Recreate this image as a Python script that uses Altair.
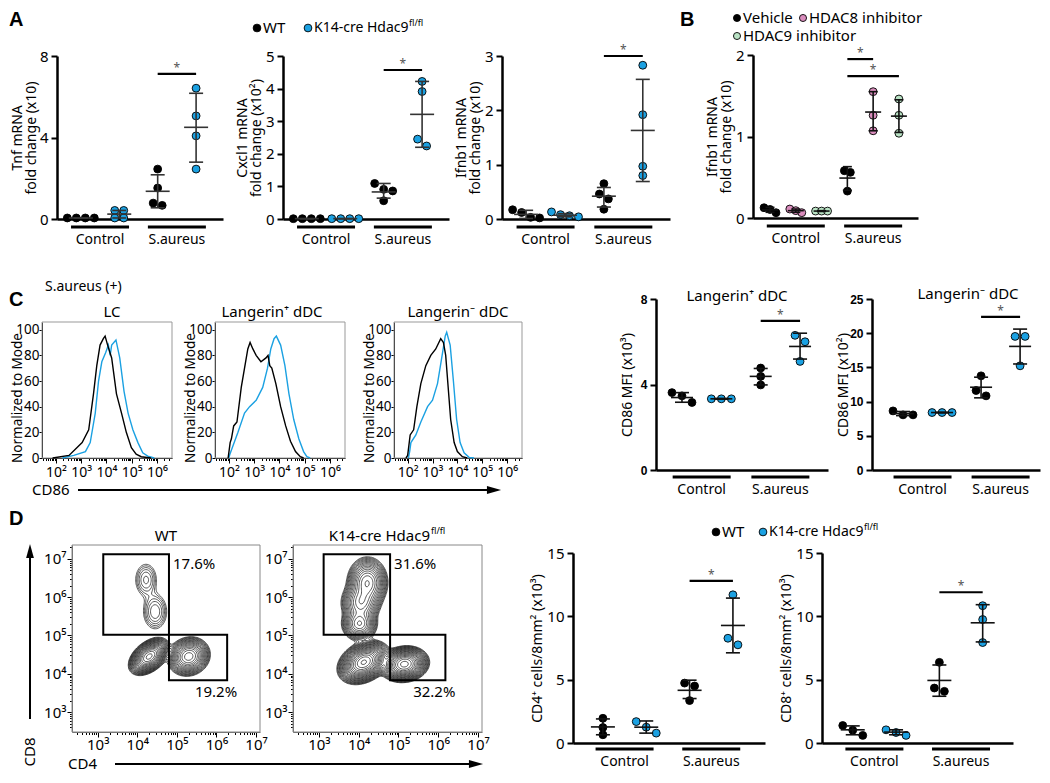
import altair as alt
import numpy as np
import pandas as pd

alt.data_transformers.disable_max_rows()

FONT = "Noto Sans"
BFONT = "Liberation Sans"
BLUE = "#1ba1e2"
BLACK = "#000000"
PINK = "#d98cbc"
GREEN = "#b9e2c4"

CATS = ["Control", "S.aureus"]
GENOTYPES = ["WT", "K14-cre Hdac9"]
SUP = "fl/fl"
TREATMENTS = ["Vehicle", "HDAC8 inhibitor", "HDAC9 inhibitor"]

# ---------------- Panel A (WT ctrl, KO ctrl, WT S.aureus, KO S.aureus) ----------------
tnf_vals = [[0.05, 0.05, 0.05, 0.05], [0.42, 0.42, 0.05, 0.05], [2.45, 1.52, 0.78, 0.67], [6.42, 5.06, 4.08, 2.45]]
tnf_mean = [0.05, 0.24, 1.36, 4.50]
tnf_lo = [0.04, 0.05, 0.55, 2.79]
tnf_hi = [0.06, 0.42, 2.17, 6.17]

cxcl1_vals = [[0.01, 0.01, 0.01, 0.01], [0.01, 0.01, 0.01, 0.01], [1.09, 0.91, 0.86, 0.56], [4.22, 3.91, 2.45, 2.24]]
cxcl1_mean = [0.01, 0.01, 0.83, 3.21]
cxcl1_lo = [0.01, 0.01, 0.64, 2.20]
cxcl1_hi = [0.01, 0.01, 1.09, 4.22]

ifnb1_vals = [[0.17, 0.12, 0.03, 0.02], [0.13, 0.08, 0.06, 0.04], [0.65, 0.46, 0.37, 0.18], [2.83, 1.92, 0.97, 0.80]]
ifnb1_mean = [0.085, 0.07, 0.42, 1.63]
ifnb1_lo = [0.01, 0.04, 0.22, 0.69]
ifnb1_hi = [0.16, 0.10, 0.58, 2.57]

# ---------------- Panel B (Vehicle, HDAC8i, HDAC9i) x (Control, S.aureus) ----------------
b_vals = [[0.126, 0.105, 0.065], [0.11, 0.09, 0.065], [0.085, 0.085, 0.085],
          [0.58, 0.56, 0.33], [1.55, 1.26, 1.07], [1.46, 1.26, 1.04]]
b_mean = [0.10, 0.09, 0.085, 0.49, 1.30, 1.25]
b_lo = [0.07, 0.07, 0.08, 0.34, 1.07, 1.05]
b_hi = [0.13, 0.11, 0.09, 0.63, 1.55, 1.45]

# ---------------- Panel C dot plots ----------------
cplus_vals = [[3.62, 3.47, 3.16], [3.33, 3.33, 3.33], [4.77, 4.38, 3.98], [6.30, 6.00, 5.08]]
cplus_mean = [3.39, 3.33, 4.38, 5.78]
cplus_lo = [3.17, 3.31, 3.98, 5.19]
cplus_hi = [3.62, 3.35, 4.75, 6.40]

cminus_vals = [[8.64, 8.06, 8.06], [8.40, 8.40, 8.40], [13.77, 11.62, 10.84], [19.53, 19.53, 15.23]]
cminus_mean = [8.25, 8.40, 12.10, 18.07]
cminus_lo = [7.95, 8.35, 10.55, 15.50]
cminus_hi = [8.55, 8.45, 13.57, 20.60]

# ---------------- Panel C histograms (log10 CD86, % of mode) ----------------
lc_wt_x = [1.87, 2.52, 3.04, 3.30, 3.49, 3.62, 3.75, 3.88, 3.95, 4.05, 4.21, 4.40, 4.60, 4.79, 4.99, 5.18, 5.38, 5.77]
lc_wt_y = [0, 2, 12, 22, 50, 72, 88, 93, 95, 88, 78, 50, 35, 20, 8, 3, 1, 0]
lc_ko_x = [2.26, 2.71, 3.17, 3.36, 3.56, 3.69, 3.82, 3.97, 4.08, 4.15, 4.21, 4.38, 4.53, 4.70, 4.86, 5.05, 5.25, 5.44, 5.64, 5.90]
lc_ko_y = [0, 2, 5, 12, 35, 60, 75, 82, 88, 80, 88, 92, 78, 52, 35, 22, 12, 4, 1.5, 0]

lp_wt_x = [1.97, 2.05, 2.10, 2.19, 2.32, 2.49, 2.62, 2.75, 2.84, 2.95, 3.08, 3.27, 3.47, 3.55, 3.62, 3.70, 3.86, 4.05, 4.25, 4.44, 4.64, 4.83, 4.96]
lp_wt_y = [0, 12, 15, 25, 28, 55, 70, 85, 90, 85, 80, 75, 78, 80, 72, 70, 58, 40, 25, 13, 5, 1, 0]
lp_ko_x = [2.00, 2.04, 2.17, 2.36, 2.62, 2.82, 3.08, 3.34, 3.53, 3.66, 3.79, 3.88, 4.05, 4.22, 4.38, 4.57, 4.77, 4.96, 5.09, 5.22]
lp_ko_y = [0, 3, 10, 20, 35, 40, 45, 55, 70, 85, 93, 95, 88, 72, 50, 30, 15, 5, 1, 0]

lm_wt_x = [1.93, 2.00, 2.10, 2.24, 2.37, 2.53, 2.73, 2.93, 3.13, 3.33, 3.44, 3.53, 3.63, 3.73, 3.87, 4.00, 4.20, 4.40]
lm_wt_y = [0, 2, 18, 22, 40, 58, 72, 80, 85, 93, 90, 80, 55, 30, 12, 5, 1, 0]
lm_ko_x = [2.03, 2.08, 2.13, 2.33, 2.53, 2.80, 3.00, 3.20, 3.37, 3.51, 3.57, 3.71, 3.84, 3.97, 4.11, 4.27, 4.47, 4.67]
lm_ko_y = [0, 5, 12, 18, 28, 40, 45, 58, 78, 95, 98, 88, 60, 30, 12, 4, 0.5, 0]

# ---------------- Panel D contour populations (log10 CD4, log10 CD8, sd x, sd y, corr, weight) ----
wt_pops = [(4.30, 4.45, 0.17, 0.16, 0.45, 1.0), (5.30, 4.45, 0.19, 0.18, 0.1, 0.5),
           (4.45, 5.62, 0.17, 0.26, 0.0, 0.035), (4.22, 6.45, 0.16, 0.25, 0.0, 0.03)]
ko_pops = [(4.13, 4.30, 0.22, 0.19, 0.3, 1.0), (5.15, 4.25, 0.21, 0.16, 0.1, 0.85),
           (4.02, 5.30, 0.18, 0.18, 0.0, 0.20), (4.05, 5.85, 0.20, 0.22, 0.0, 0.18),
           (4.22, 6.38, 0.20, 0.26, 0.0, 0.25)]
wt_levels = [0.9 * 0.78 ** k for k in range(20)]
ko_levels = [0.95 * 0.8 ** k for k in range(22)]
wt_gates = [[3.14, 4.80, 5.02, 7.12], [4.80, 6.27, 3.83, 5.02]]
ko_gates = [[3.12, 4.79, 5.02, 7.12], [4.79, 6.18, 3.83, 5.02]]
wt_pct = ["17.6%", "19.2%"]
ko_pct = ["31.6%", "32.2%"]

# ---------------- Panel D dot plots ----------------
cd4_vals = [[1.95, 1.22, 0.65], [1.69, 1.25, 0.78], [4.73, 4.50, 3.35], [11.70, 8.27, 7.75]]
cd4_mean = [1.27, 1.25, 4.16, 9.28]
cd4_lo = [0.65, 0.78, 3.51, 7.12]
cd4_hi = [1.90, 1.74, 4.96, 11.44]
cd8_vals = [[1.38, 1.01, 0.60], [1.04, 0.83, 0.60], [6.37, 4.34, 4.08], [10.84, 9.75, 7.93]]
cd8_mean = [1.04, 0.86, 4.94, 9.49]
cd8_lo = [0.65, 0.65, 3.69, 7.98]
cd8_hi = [1.35, 1.04, 6.16, 10.92]

MAJ = "abs(log(datum.value)/LN10 - round(log(datum.value)/LN10)) < 0.01"
LBL = ("(" + MAJ + ") ? '10' + ['\u2070','\u00b9','\u00b2','\u00b3','\u2074','\u2075','\u2076','\u2077','\u2078']"
       "[round(log(datum.value)/LN10)] : ''")

# whole canvas = one view; page coordinates are view coordinates + 8
VW, VH = 1034, 762
O = 8


# ---------------- helpers (page coordinates) ----------------
def one():
    return pd.DataFrame({"a": [0]})


def txt(s, x, y, size=14, align="left", baseline="middle", weight="normal", angle=0, font=FONT, color="black"):
    return alt.Chart(pd.DataFrame({"t": [s]})).mark_text(
        align=align, baseline=baseline, fontSize=size, fontWeight=weight, angle=angle, font=font, color=color
    ).encode(x=alt.value(x - O), y=alt.value(y - O), text="t:N")


def dot(x, y, fill, size=60):
    return alt.Chart(one()).mark_point(filled=True, fill=fill, stroke="black", strokeWidth=0.9, size=size, opacity=1).encode(
        x=alt.value(x - O), y=alt.value(y - O))


def hline(x1, x2, y, w=2):
    return alt.Chart(one()).mark_rule(color="black", strokeWidth=w).encode(
        x=alt.value(x1 - O), x2=alt.value(x2 - O), y=alt.value(y - O))


def vline(x, y1, y2, w=2):
    return alt.Chart(one()).mark_rule(color="black", strokeWidth=w).encode(
        x=alt.value(x - O), y=alt.value(y1 - O), y2=alt.value(y2 - O))


def head(x, y, shape, size=200):
    return alt.Chart(one()).mark_point(shape=shape, filled=True, fill="black", strokeWidth=0, size=size, opacity=1).encode(
        x=alt.value(x - O), y=alt.value(y - O))


RIGHT = "M-1,-0.55L1,0L-1,0.55Z"
UP = "M-0.55,1L0,-1L0.55,1Z"


def swarm(vals, ppy, d, thr=7.0):
    order = sorted(range(len(vals)), key=lambda i: -vals[i])
    rows = []
    for i in order:
        if rows and (vals[rows[-1][-1]] - vals[i]) * ppy < thr:
            rows[-1].append(i)
        else:
            rows.append([i])
    offs = [0.0] * len(vals)
    for r in rows:
        for k, i in enumerate(r):
            offs[i] = (k - (len(r) - 1) / 2) * d
    return offs


def scales(ox, oy, W, H, xdom, ydom, xtype="linear", ytype="linear"):
    xs = alt.Scale(type=xtype, domain=xdom, range=[ox - O, ox - O + W], nice=False, zero=False)
    ys = alt.Scale(type=ytype, domain=ydom, range=[oy - O + H, oy - O], nice=False, zero=False)
    return xs, ys


def dot_panel(vals, means, los, his, colors, ox, oy, W, H, ymax, yticks, ytitle, title_x, xlo, xhi, sigs, cat_pos,
              d=9, mean_hw=12, cap_hw=7, under_hw=29, under_dy=8, cat_dy=21, lab_font=FONT, lab_size=15,
              lab_weight="normal", bar_color="#333"):
    ppx = W / (xhi - xlo)
    ppy = H / ymax
    xs, ys = scales(ox, oy, W, H, [xlo, xhi], [0, ymax])
    xax = alt.Axis(orient="bottom", offset=(oy - O + H) - VH, labels=False, ticks=False, title=None, grid=False,
                   domainWidth=2.5, domainColor="black")
    yax = alt.Axis(orient="left", offset=-(ox - O), values=yticks, format="~g", title=ytitle, titleX=title_x,
                   grid=False, tickSize=6, tickWidth=2, domainWidth=2.5, labelFont=lab_font, labelFontSize=lab_size,
                   labelFontWeight=lab_weight, titleFontSize=14, labelPadding=3, titleLineHeight=14.5)

    def X(f):
        return alt.X(f, type="quantitative", scale=xs, axis=xax)

    def Y(f):
        return alt.Y(f, type="quantitative", scale=ys, axis=yax)

    prow = []
    for g, (v, c) in enumerate(zip(vals, colors)):
        for val, o in zip(v, swarm(v, ppy, d)):
            prow.append({"x": g + 1 + o / ppx, "y": val, "c": c})
    pdf = pd.DataFrame(prow)
    n = len(vals)
    edf = pd.DataFrame({"x": [g + 1.0 for g in range(n)], "mean": means, "lo": los, "hi": his})
    edf["m1"] = edf.x - mean_hw / ppx
    edf["m2"] = edf.x + mean_hw / ppx
    edf["c1"] = edf.x - cap_hw / ppx
    edf["c2"] = edf.x + cap_hw / ppx
    udf = pd.DataFrame({"label": CATS, "xc": cat_pos})
    udf["x1"] = udf.xc - under_hw / ppx
    udf["x2"] = udf.xc + under_hw / ppx
    sdf = pd.DataFrame(sigs, columns=["g1", "g2", "y"])
    sdf["xm"] = (sdf.g1 + sdf.g2) / 2
    layers = [
        alt.Chart(pdf).mark_point(filled=True, size=62, stroke="black", strokeWidth=0.9, opacity=1).encode(
            x=X("x"), y=Y("y"), fill=alt.Fill("c:N", scale=None)),
        alt.Chart(edf).mark_rule(color=bar_color, strokeWidth=1.6).encode(x=X("x"), y=Y("lo"), y2=alt.Y2("hi")),
        alt.Chart(edf).mark_rule(color=bar_color, strokeWidth=1.6).encode(x=X("m1"), x2=alt.X2("m2"), y=Y("mean")),
        alt.Chart(edf).mark_rule(color=bar_color, strokeWidth=1.6).encode(x=X("c1"), x2=alt.X2("c2"), y=Y("hi")),
        alt.Chart(edf).mark_rule(color=bar_color, strokeWidth=1.6).encode(x=X("c1"), x2=alt.X2("c2"), y=Y("lo")),
        alt.Chart(sdf).mark_rule(color="black", strokeWidth=2.2).encode(x=X("g1"), x2=alt.X2("g2"), y=Y("y")),
        alt.Chart(sdf).mark_text(text="*", dy=-6, fontSize=12, color="#555").encode(x=X("xm"), y=Y("y")),
        alt.Chart(udf).mark_rule(color="black", strokeWidth=2.8).encode(
            x=X("x1"), x2=alt.X2("x2"), y=alt.value(oy - O + H + under_dy)),
        alt.Chart(udf).mark_text(fontSize=14, baseline="middle", font=FONT).encode(
            x=X("xc"), y=alt.value(oy - O + H + cat_dy), text="label:N"),
    ]
    return alt.layer(*layers)


def log_axis(lo, hi, size, **kw):
    vals = []
    for k in range(int(np.floor(lo)), int(np.ceil(hi)) + 1):
        for m in range(1, 10):
            v = float(m * 10 ** k)
            if 10 ** lo <= v <= 10 ** hi:
                vals.append(v)
    return alt.Axis(values=vals, labelExpr=LBL, tickSize={"condition": {"test": MAJ, "value": 5}, "value": 2.5},
                    labelOverlap=False, labelFlush=False, labelFontSize=size, grid=False, **kw)


def frame(xs, ys, xax, yax, xd, yd, color):
    df = pd.DataFrame({"x1": [xd[0]], "x2": [xd[1]], "y1": [yd[0]], "y2": [yd[1]]})
    return alt.Chart(df).mark_rect(fillOpacity=0, stroke=color, strokeWidth=1).encode(
        x=alt.X("x1:Q", scale=xs, axis=xax), x2=alt.X2("x2"), y=alt.Y("y1:Q", scale=ys, axis=yax), y2=alt.Y2("y2"))


HX = (10 ** 1.45, 10 ** 6.6)
HY = (0, 106)


def hist_panel(bx, by, ux, uy, ox, oy, W, H):
    xs, ys = scales(ox, oy, W, H, list(HX), list(HY), xtype="log")
    xax = log_axis(1.45, 6.6, 14, orient="bottom", offset=(oy - O + H) - VH, title=None, domainColor="black",
                   domainWidth=1, tickWidth=1, labelPadding=2)
    yax = alt.Axis(orient="left", offset=-(ox - O), values=[0, 20, 40, 60, 80, 100], title=None,
                   tickSize=3, tickWidth=1, domainWidth=1, labelFontSize=13.5, labelPadding=0, grid=False)

    def mk(xv, yv, col):
        df = pd.DataFrame({"lx": xv, "y": yv})
        return alt.Chart(df).transform_calculate(x="pow(10, datum.lx)").mark_line(color=col, strokeWidth=1.4).encode(
            x=alt.X("x:Q", scale=xs, axis=xax), y=alt.Y("y:Q", scale=ys, axis=yax))

    return alt.layer(frame(xs, ys, xax, yax, HX, HY, "#999"), mk(ux, uy, BLUE), mk(bx, by, "black"),
                     txt("Normalized to Mode", ox - 24, oy + H / 2 + 8, size=13.5, align="center", angle=270))


CASES = {1: [(3, 0)], 2: [(0, 1)], 3: [(3, 1)], 4: [(1, 2)], 5: [(3, 0), (1, 2)], 6: [(0, 2)], 7: [(3, 2)],
         8: [(2, 3)], 9: [(0, 2)], 10: [(0, 1), (2, 3)], 11: [(1, 2)], 12: [(3, 1)], 13: [(0, 1)], 14: [(3, 0)]}


def march(Z, xs, ys, L):
    z0 = Z[:-1, :-1]; z1 = Z[:-1, 1:]; z2 = Z[1:, 1:]; z3 = Z[1:, :-1]
    idx = (z0 > L) * 1 + (z1 > L) * 2 + (z2 > L) * 4 + (z3 > L) * 8
    X0 = np.broadcast_to(xs[None, :-1], z0.shape); X1 = np.broadcast_to(xs[None, 1:], z0.shape)
    Y0 = np.broadcast_to(ys[:-1, None], z0.shape); Y1 = np.broadcast_to(ys[1:, None], z0.shape)
    with np.errstate(divide="ignore", invalid="ignore"):
        E = [(X0 + (L - z0) / (z1 - z0) * (X1 - X0), Y0),
             (X1, Y0 + (L - z1) / (z2 - z1) * (Y1 - Y0)),
             (X0 + (L - z3) / (z2 - z3) * (X1 - X0), Y1),
             (X0, Y0 + (L - z0) / (z3 - z0) * (Y1 - Y0))]
    out = []
    for case, pairs in CASES.items():
        m = idx == case
        if not m.any():
            continue
        for a, b in pairs:
            out.append(np.stack([E[a][0][m], E[a][1][m], E[b][0][m], E[b][1][m]], axis=1))
    return np.concatenate(out) if out else np.zeros((0, 4))


XL = (2.35, 7.1)
YL = (2.48, 7.36)


def contour_panel(pops, levels, gates, pct, ox, oy, W, H):
    lx = np.linspace(XL[0], XL[1], 141)
    ly = np.linspace(YL[0], YL[1], 141)
    GX, GY = np.meshgrid(lx, ly)
    Z = np.zeros_like(GX)
    for cx, cy, sx, sy, r, w in pops:
        dx = (GX - cx) / sx
        dy = (GY - cy) / sy
        Z += w * np.exp(-0.5 * (dx * dx - 2 * r * dx * dy + dy * dy) / (1 - r * r))
    segs = np.concatenate([march(Z, lx, ly, L) for L in levels])
    sdf = pd.DataFrame(np.round(segs, 3), columns=["a", "b", "c", "d"])
    xd = [10 ** XL[0], 10 ** XL[1]]
    yd = [10 ** YL[0], 10 ** YL[1]]
    xs, ys = scales(ox, oy, W, H, xd, yd, xtype="log", ytype="log")
    xax = log_axis(XL[0], XL[1], 15, orient="bottom", offset=(oy - O + H) - VH, title=None, domainColor="#666",
                   domainWidth=1, tickWidth=1, labelPadding=0)
    yax = log_axis(YL[0], YL[1], 15, orient="left", offset=-(ox - O), title=None, domainColor="#666",
                   domainWidth=1, tickWidth=1, labelPadding=1)
    cont = alt.Chart(sdf).transform_calculate(
        x="pow(10, datum.a)", y="pow(10, datum.b)", x2="pow(10, datum.c)", y2="pow(10, datum.d)"
    ).mark_rule(color="#111", strokeWidth=0.7).encode(
        x=alt.X("x:Q", scale=xs, axis=xax), y=alt.Y("y:Q", scale=ys, axis=yax), x2=alt.X2("x2:Q"), y2=alt.Y2("y2:Q"))
    gdf = pd.DataFrame(gates, columns=["a", "b", "c", "d"])
    gate = alt.Chart(gdf).transform_calculate(
        x="pow(10, datum.a)", x2="pow(10, datum.b)", y="pow(10, datum.c)", y2="pow(10, datum.d)"
    ).mark_rect(fillOpacity=0, stroke="black", strokeWidth=2).encode(
        x=alt.X("x:Q", scale=xs, axis=xax), x2=alt.X2("x2:Q"), y=alt.Y("y:Q", scale=ys, axis=yax), y2=alt.Y2("y2:Q"))
    l1 = alt.Chart(pd.DataFrame({"t": [pct[0]], "a": [gates[0][1]], "b": [gates[0][3]]})).transform_calculate(
        x="pow(10, datum.a)", y="pow(10, datum.b)").mark_text(align="left", baseline="middle", dx=4, dy=10, fontSize=15).encode(
        x=alt.X("x:Q", scale=xs, axis=xax), y=alt.Y("y:Q", scale=ys, axis=yax), text="t:N")
    l2 = alt.Chart(pd.DataFrame({"t": [pct[1]], "a": [gates[1][1]], "b": [gates[1][2]]})).transform_calculate(
        x="pow(10, datum.a)", y="pow(10, datum.b)").mark_text(align="right", baseline="middle", dx=10, dy=12, fontSize=15).encode(
        x=alt.X("x:Q", scale=xs, axis=xax), y=alt.Y("y:Q", scale=ys, axis=yax), text="t:N")
    return alt.layer(frame(xs, ys, xax, yax, xd, yd, "#888"), cont, gate, l1, l2)


A_COL = [BLACK, BLUE, BLACK, BLUE]
B_COL = [BLACK, PINK, GREEN, BLACK, PINK, GREEN]

panels = [
    # ---- row 1 ----
    dot_panel(tnf_vals, tnf_mean, tnf_lo, tnf_hi, A_COL, 57, 56, 166, 163, 8, [0, 4, 8],
              ["Tnf mRNA", "fold change (x10)"], -33, 0.38, 4.70, [(3, 4, 7.12)], [1.5, 3.5]),
    dot_panel(cxcl1_vals, cxcl1_mean, cxcl1_lo, cxcl1_hi, A_COL, 283, 56, 166, 163, 5, [0, 1, 2, 3, 4, 5],
              ["Cxcl1 mRNA", "fold change (x10\u00b2)"], -34, 0.38, 4.70, [(3, 4, 4.57)], [1.5, 3.5]),
    dot_panel(ifnb1_vals, ifnb1_mean, ifnb1_lo, ifnb1_hi, A_COL, 502, 56, 168, 163, 3, [0, 1, 2, 3],
              ["Ifnb1 mRNA", "fold change (x10)"], -34, 0.38, 4.70, [(3, 4, 3.0)], [1.5, 3.5]),
    dot_panel(b_vals, b_mean, b_lo, b_hi, B_COL, 753, 55, 165, 163, 2, [0, 1, 2], ["Ifnb1 mRNA", "fold change (x10)"],
              -34, 0.34, 6.74, [(4, 5, 1.95), (4, 6, 1.74)], [2, 5], d=6, mean_hw=8, cap_hw=4.5, bar_color="#111"),
    # ---- row 2 ----
    hist_panel(lc_wt_x, lc_wt_y, lc_ko_x, lc_ko_y, 42, 322, 130, 136),
    hist_panel(lp_wt_x, lp_wt_y, lp_ko_x, lp_ko_y, 215, 322, 130, 136),
    hist_panel(lm_wt_x, lm_wt_y, lm_ko_x, lm_ko_y, 394, 322, 128, 136),
    dot_panel(cplus_vals, cplus_mean, cplus_lo, cplus_hi, A_COL, 656, 299, 172, 171, 8, [0, 4, 8], "CD86 MFI (x10\u00b3)",
              -22, 0.34, 4.71, [(3, 4, 6.98)], [1.5, 3.5], d=10, mean_hw=11, cap_hw=7, under_dy=7, cat_dy=20,
              lab_font=BFONT, lab_size=12, lab_weight="bold", bar_color="#111"),
    dot_panel(cminus_vals, cminus_mean, cminus_lo, cminus_hi, A_COL, 872, 299, 168, 171, 25, [0, 5, 10, 15, 20, 25],
              "CD86 MFI (x10\u00b2)", -22, 0.205, 4.51, [(3, 4, 22.4)], [1.5, 3.5], d=10, mean_hw=11, cap_hw=7,
              under_dy=7, cat_dy=20, lab_font=BFONT, lab_size=12, lab_weight="bold", bar_color="#111"),
    # ---- row 3 ----
    contour_panel(wt_pops, wt_levels, wt_gates, wt_pct, 72, 545, 188, 187),
    contour_panel(ko_pops, ko_levels, ko_gates, ko_pct, 293, 545, 189, 187),
    dot_panel(cd4_vals, cd4_mean, cd4_lo, cd4_hi, A_COL, 573, 553, 192, 190, 15, [0, 5, 10, 15],
              "CD4\u207a cells/8mm\u00b2 (x10\u00b3)", -29, 0.31, 4.74, [(3, 4, 12.8)], [1.5, 3.5], d=10, mean_hw=12,
              cap_hw=7, under_dy=6, cat_dy=19, bar_color="#111"),
    dot_panel(cd8_vals, cd8_mean, cd8_lo, cd8_hi, A_COL, 822, 553, 191, 190, 15, [0, 5, 10, 15],
              "CD8\u207a cells/8mm\u00b2 (x10\u00b3)", -29, 0.29, 4.70, [(3, 4, 11.9)], [1.5, 3.5], d=10, mean_hw=12,
              cap_hw=7, under_dy=6, cat_dy=19, bar_color="#111"),
]

notes = [
    # panel letters
    txt("A", 9, 10, size=20, weight="bold", baseline="top", font=BFONT),
    txt("B", 680, 10, size=20, weight="bold", baseline="top", font=BFONT),
    txt("C", 9, 300, size=20, weight="bold", font=BFONT),
    txt("D", 9, 519, size=20, weight="bold", font=BFONT),
    # A legend
    dot(257, 28, BLACK), txt(GENOTYPES[0], 263, 28, size=15),
    dot(308, 28, BLUE), txt(GENOTYPES[1], 314, 28, size=14), txt(SUP, 409, 23, size=9),
    # B legend
    dot(737, 18, BLACK, 50), txt(TREATMENTS[0], 743, 18, size=15),
    dot(803, 18, PINK, 50), txt(TREATMENTS[1], 809, 18, size=15),
    dot(737, 36, GREEN, 50), txt(TREATMENTS[2], 743, 36, size=15),
    # C annotations
    txt("S.aureus (+)", 45, 287, size=14),
    txt("LC", 112, 312, size=15, align="center"),
    txt("Langerin\u207a dDC", 272, 312, size=15, align="center"),
    txt("Langerin\u207b dDC", 458, 312, size=15, align="center"),
    txt("CD86", 32, 490, size=15),
    hline(78, 492, 490, 2), head(494, 490, RIGHT, 200),
    txt("Langerin\u207a dDC", 737, 296, size=15, align="center"),
    txt("Langerin\u207b dDC", 968, 294, size=15, align="center"),
    # D annotations
    txt("WT", 166, 536, size=15, align="center"),
    txt(GENOTYPES[1], 430, 536, size=15, align="right"), txt(SUP, 431, 531, size=9),
    vline(30, 719, 551, 2), head(30, 551, UP, 200),
    txt("CD8", 30, 752, size=15, align="center", angle=270),
    txt("CD4", 68, 764, size=15),
    hline(115, 474, 764, 2), head(476, 764, RIGHT, 200),
    dot(716, 532, BLACK), txt(GENOTYPES[0], 722, 532, size=15),
    dot(763, 532, BLUE), txt(GENOTYPES[1], 769, 532, size=14), txt(SUP, 864, 527, size=9),
]

chart = alt.layer(*panels, *notes).resolve_scale(x="independent", y="independent").resolve_axis(
    x="independent", y="independent"
).properties(width=VW, height=VH, padding=0).configure_view(stroke=None).configure_axis(
    grid=False, labelFont=FONT, titleFont=FONT, labelColor="black", titleColor="black", tickColor="black",
    domainColor="black", titleFontWeight="normal"
).configure_text(font=FONT, color="black")

chart.save("out.html", embed_options={"renderer": "svg", "actions": False})
